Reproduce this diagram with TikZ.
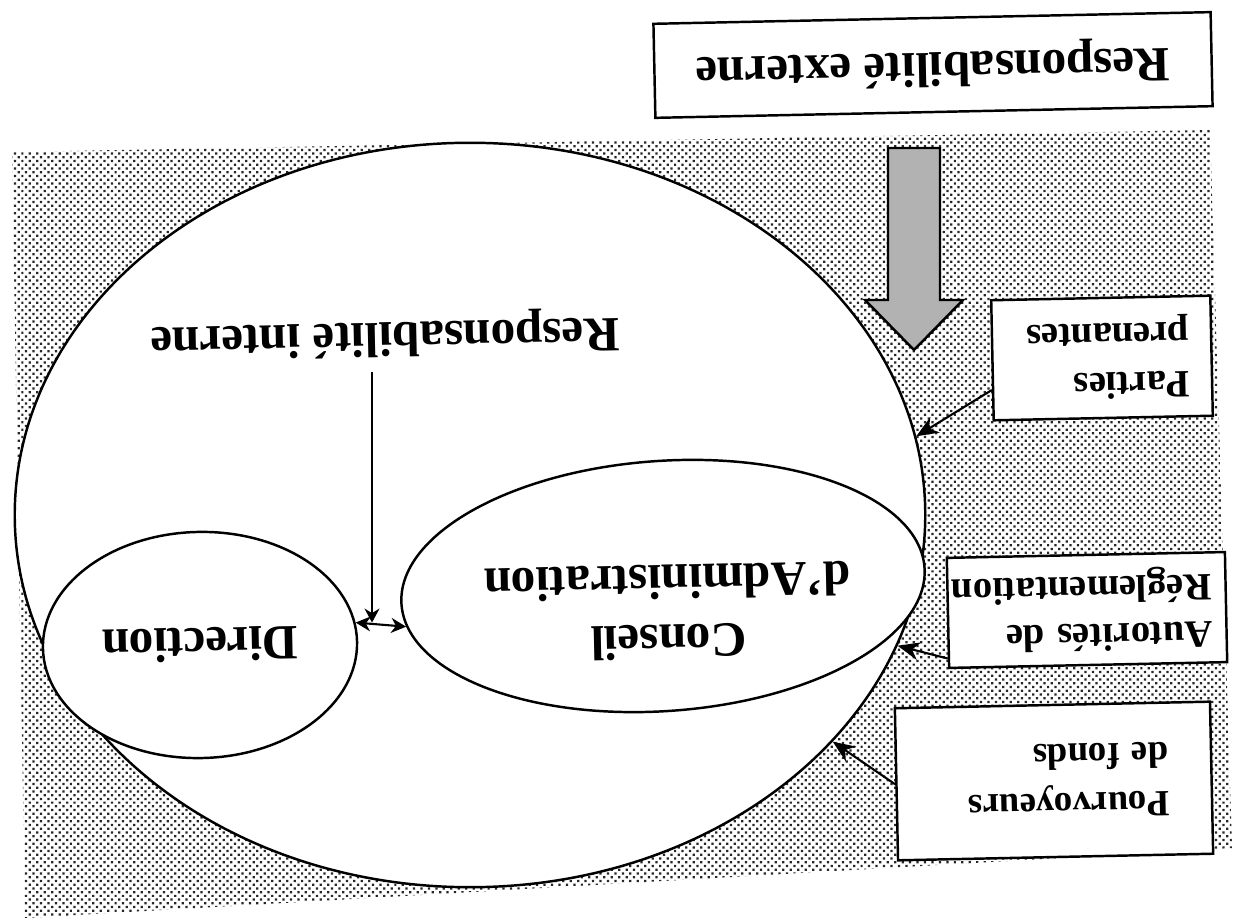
\documentclass[tikz,border=0pt]{standalone}
\usepackage{fontspec}
\setmainfont{Liberation Serif}
\usetikzlibrary{shapes.geometric,patterns.meta,arrows.meta}
\begin{document}
\begin{tikzpicture}[x=0.01cm,y=-0.01cm,
	big/.style={font=\bfseries\fontsize{14}{17}\selectfont},
	lbl/.style={draw,line width=0.7pt,fill=white,rotate=181.2,align=left,font=\bfseries\fontsize{10.5}{14}\selectfont},
	oval/.style={ellipse,draw,line width=0.7pt,fill=white,inner sep=0pt},
	tip/.style={-{Stealth[length=2.2mm,width=1.8mm]},line width=0.6pt}]
	\useasboundingbox (0,0) rectangle (1233,922);
	
	% fond pointille
	\fill[pattern={Dots[distance=1.5pt,radius=0.45pt,angle=45]},pattern color=black!85] (12,152) -- (1210,130) -- (1232,848) -- (25,918) -- cycle;
	
	\node[oval,minimum width=9.1cm,minimum height=7.44cm] (organisation) at (470,515) {};
	\node[oval,rotate=181.2,big,minimum width=3.14cm,minimum height=2.26cm] (direction) at (200,645) {Direction};
	\node[oval,rotate=184,minimum width=5.24cm,minimum height=2.5cm] (conseil) at (663,586) {};
	\node[big,rotate=181.2,align=center] (conseiltxt) at (668,612) {Conseil\\d’Administration};
	\node[big,rotate=181.2] (interne) at (385,335) {Responsabilité interne};
	
	% fleche grise
	\filldraw[fill=black!30,draw=black,line width=0.7pt] (888,148) -- (940,148) -- (940,300) -- (963,300) -- (914,350) -- (865,300) -- (888,300) -- cycle;
	
	\node[draw,line width=0.7pt,fill=white,rotate=181.2,big,minimum width=5.57cm,minimum height=0.94cm] (externe) at (933,65) {Responsabilité externe};
	\node[lbl,minimum width=2.19cm,minimum height=1.2cm,text width=1.75cm,font=\bfseries\fontsize{11}{14}\selectfont] (parties) at (1102,358) {Parties\\prenantes};
	\node[lbl,minimum width=2.78cm,minimum height=1.1cm,text width=2.5cm,font=\bfseries\fontsize{11}{13.5}\selectfont] (autorites) at (1087,610) {Autorités de\\Réglementation};
	\node[lbl,minimum width=3.15cm,minimum height=1.52cm,text width=2.3cm] (pourvoyeurs) at (1054,781) {Pourvoyeurs\\de fonds};
	
	\draw[tip] (parties.15) -- (organisation.10);
	\draw[tip] (autorites.18) -- (organisation.-17);
	\draw[tip] (pourvoyeurs.0) -- (organisation.-32);
	
	\coordinate (intop) at (372,372);
	\draw[{Stealth[length=1.5mm,width=1.5mm]}-{Stealth[length=1.5mm,width=1.5mm]},line width=0.6pt] (direction.-173) -- (conseil.5);
	\draw[-{Stealth[length=1.4mm,width=1.5mm]},line width=0.4pt] (intop) -- (intop |- direction.-173);
	
\end{tikzpicture}
\end{document}
